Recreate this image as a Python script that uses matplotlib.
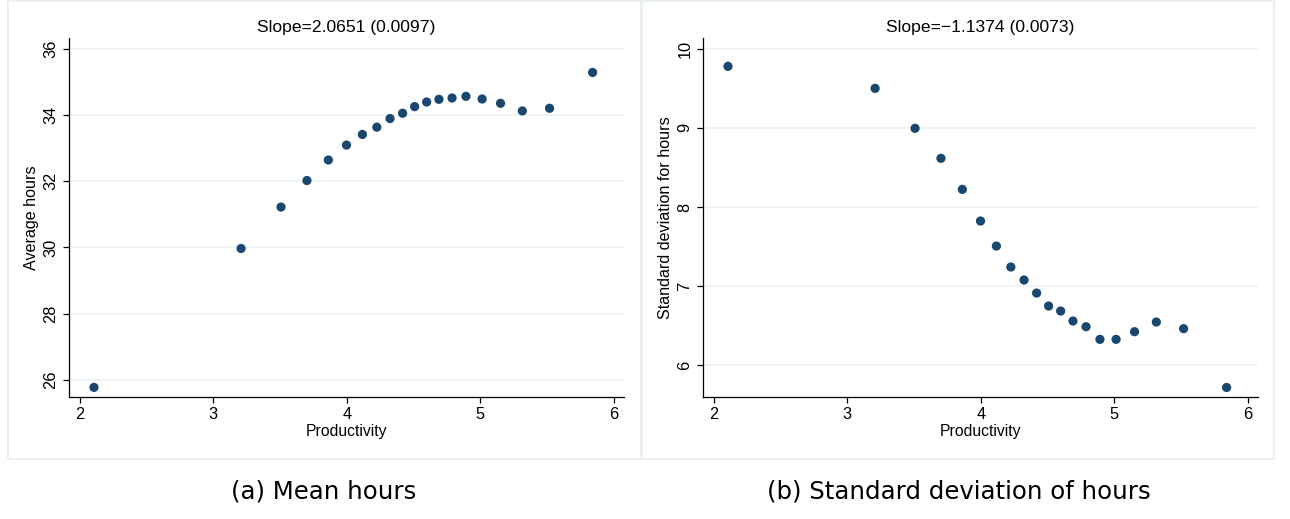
import matplotlib
matplotlib.use("Agg")
import matplotlib.pyplot as plt
from matplotlib.patches import Rectangle

# Binned means by productivity
productivity = [2.108, 3.209, 3.508, 3.702, 3.862, 3.998, 4.117, 4.225, 4.324, 4.418,
                4.508, 4.598, 4.690, 4.788, 4.892, 5.013, 5.151, 5.314, 5.518, 5.840]
mean_hours = [25.78, 29.97, 31.22, 32.02, 32.64, 33.09, 33.41, 33.63, 33.89, 34.05,
              34.25, 34.39, 34.47, 34.51, 34.56, 34.48, 34.35, 34.12, 34.20, 35.28]
sd_hours = [9.777, 9.499, 8.994, 8.615, 8.223, 7.823, 7.507, 7.242, 7.078, 6.913,
            6.749, 6.686, 6.560, 6.488, 6.328, 6.328, 6.425, 6.547, 6.463, 5.720]

titles = ["Slope=2.0651 (0.0097)", "Slope=\u22121.1374 (0.0073)"]
ylabels = ["Average hours", "Standard deviation for hours"]
captions = ["(a) Mean hours", "(b) Standard deviation of hours"]
yticks = [[26, 28, 30, 32, 34, 36], [6, 7, 8, 9, 10]]
ylims = [(25.49, 36.32), (5.60, 10.135)]
xticks = [2, 3, 4, 5, 6]

W, H = 1290, 519
NAVY = "#1a476f"
GRID = "#eaf2f3"
FRAME = "#e8eef0"

plt.rcParams["font.family"] = ["Liberation Sans", "DejaVu Sans"]

fig = plt.figure(figsize=(W / 100, H / 100), dpi=100)


def px_box(x0, y0, x1, y1):
    # pixel box (top-left origin) -> figure fraction [l, b, w, h]
    return [x0 / W, 1 - y1 / H, (x1 - x0) / W, (y1 - y0) / H]


# panel frames
for x0, x1 in [(8, 641), (642, 1274)]:
    l, b, w, h = px_box(x0, 1, x1, 459)
    fig.patches.append(Rectangle((l, b), w, h, transform=fig.transFigure,
                                 fill=False, edgecolor=FRAME, linewidth=1.2))

axes_px = [(69, 38, 624, 397), (703, 38, 1258, 397)]
caption_x = [324, 959]

for i, ys in enumerate([mean_hours, sd_hours]):
    ax = fig.add_axes(px_box(*axes_px[i]))
    ax.scatter(productivity, ys, s=44, color=NAVY, edgecolors="none", zorder=3)
    ax.set_xlim(1.921, 6.075)
    ax.set_ylim(*ylims[i])
    ax.set_xticks(xticks)
    ax.set_yticks(yticks[i])
    ax.grid(axis="y", color=GRID, linewidth=1.2)
    ax.set_axisbelow(True)
    for s in ["top", "right"]:
        ax.spines[s].set_visible(False)
    for s in ["left", "bottom"]:
        ax.spines[s].set_linewidth(0.9)
    ax.tick_params(direction="out", length=4.5, width=0.9, labelsize=11.8, pad=3)
    for lab in ax.get_yticklabels():
        lab.set_rotation(90)
        lab.set_va("center")
    ax.set_title(titles[i], fontsize=12.6, pad=4)
    ax.set_xlabel("Productivity", fontsize=11.3, labelpad=1)
    ax.set_ylabel(ylabels[i], fontsize=11.6, labelpad=3)
    fig.text(caption_x[i] / W, 1 - 492 / H, captions[i], ha="center", va="center",
             fontsize=17.6, family="DejaVu Sans")

fig.savefig("out.png", dpi=100)
